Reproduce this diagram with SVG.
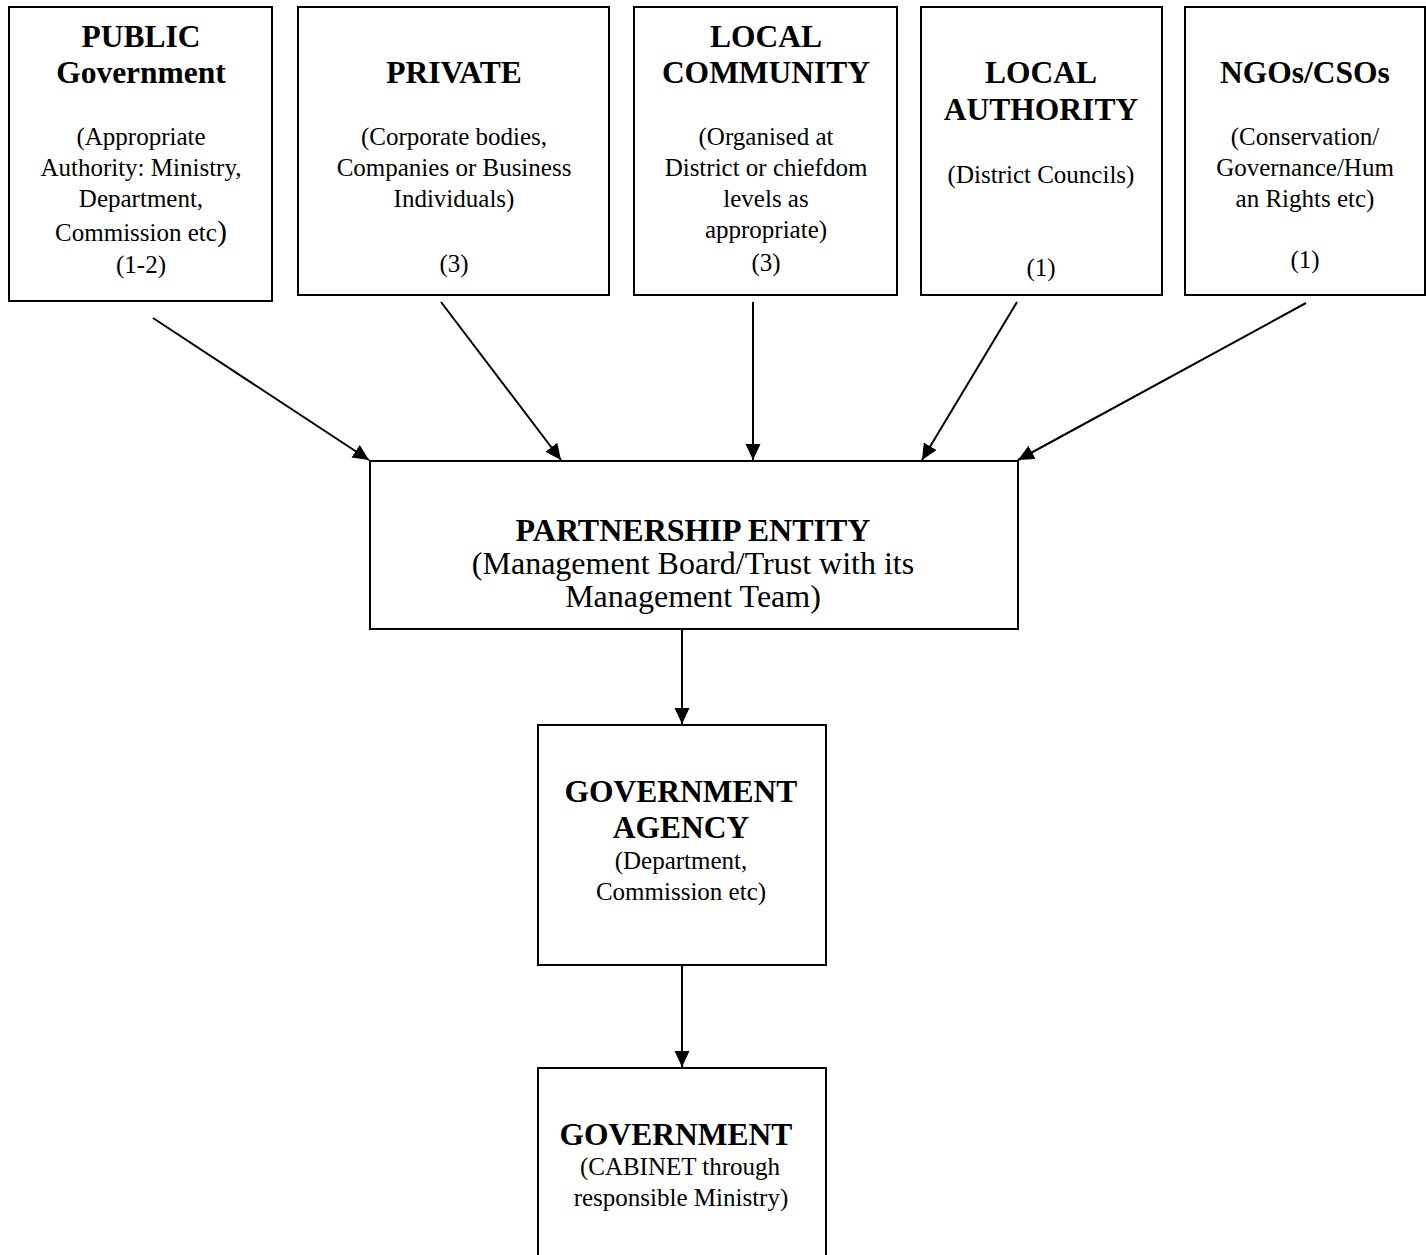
<svg xmlns="http://www.w3.org/2000/svg" width="1426" height="1255" viewBox="0 0 1426 1255">
<style>
.box{fill:#fff;stroke:#000;stroke-width:2}
text{font-family:"Liberation Serif","Times New Roman",serif;fill:#000;text-anchor:middle}
.t{font-weight:bold;font-size:31.5px}
.s{font-size:25px}
.p{font-size:32px}
.pt{font-weight:bold;font-size:32px}
.c{stroke:#000;stroke-width:2;fill:none;marker-end:url(#ah)}
</style>
<defs>
<marker id="ah" markerUnits="userSpaceOnUse" markerWidth="18" markerHeight="16" refX="16" refY="7.5" orient="auto">
<path d="M0,0 L16,7.5 L0,15 Z" fill="#000"/>
</marker>
</defs>
<rect width="1426" height="1255" fill="#fff"/>
<g id="connectors">
<line class="c" x1="153" y1="318" x2="369" y2="460"/>
<line class="c" x1="441" y1="302" x2="561" y2="460"/>
<line class="c" x1="753" y1="302" x2="753" y2="460"/>
<line class="c" x1="1017" y1="302" x2="922" y2="460"/>
<line class="c" x1="1306" y1="303" x2="1018" y2="460"/>
<line class="c" x1="682" y1="629" x2="682" y2="724"/>
<line class="c" x1="682" y1="965" x2="682" y2="1067"/>
</g>
<g id="public">
<rect class="box" x="9" y="7" width="263" height="294"/>
<text class="t" x="141" y="47">PUBLIC</text>
<text class="t" x="141" y="83">Government</text>
<text class="s" x="141" y="145">(Appropriate</text>
<text class="s" x="141" y="176">Authority: Ministry,</text>
<text class="s" x="141" y="207">Department,</text>
<text class="s" x="141" y="241">Commission etc<tspan font-size="30">)</tspan></text>
<text class="s" x="141" y="273">(1-2)</text>
</g>
<g id="private">
<rect class="box" x="298" y="7" width="311" height="288"/>
<text class="t" x="454" y="83">PRIVATE</text>
<text class="s" x="454" y="145">(Corporate bodies,</text>
<text class="s" x="454" y="176">Companies or Business</text>
<text class="s" x="454" y="207">Individuals)</text>
<text class="s" x="454" y="272">(3)</text>
</g>
<g id="community">
<rect class="box" x="634" y="7" width="263" height="288"/>
<text class="t" x="766" y="47">LOCAL</text>
<text class="t" x="766" y="83">COMMUNITY</text>
<text class="s" x="766" y="145">(Organised at</text>
<text class="s" x="766" y="176">District or chiefdom</text>
<text class="s" x="766" y="207">levels as</text>
<text class="s" x="766" y="238">appropriate)</text>
<text class="s" x="766" y="271">(3)</text>
</g>
<g id="authority">
<rect class="box" x="921" y="7" width="241" height="288"/>
<text class="t" x="1041" y="83">LOCAL</text>
<text class="t" x="1041" y="120">AUTHORITY</text>
<text class="s" x="1041" y="183">(District Councils)</text>
<text class="s" x="1041" y="276">(1)</text>
</g>
<g id="ngos">
<rect class="box" x="1185" y="7" width="240" height="288"/>
<text class="t" x="1305" y="83">NGOs/CSOs</text>
<text class="s" x="1305" y="145">(Conservation/</text>
<text class="s" x="1305" y="176">Governance/Hum</text>
<text class="s" x="1305" y="207">an Rights etc)</text>
<text class="s" x="1305" y="268">(1)</text>
</g>
<g id="partnership">
<rect class="box" x="370" y="461" width="648" height="168"/>
<text class="pt" x="693" y="541">PARTNERSHIP ENTITY</text>
<text class="p" x="693" y="574">(Management Board/Trust with its</text>
<text class="p" x="693" y="607">Management Team)</text>
</g>
<g id="agency">
<rect class="box" x="538" y="725" width="288" height="240"/>
<text class="t" x="681" y="802">GOVERNMENT</text>
<text class="t" x="681" y="838">AGENCY</text>
<text class="s" x="681" y="869">(Department,</text>
<text class="s" x="681" y="900">Commission etc)</text>
</g>
<g id="government">
<rect class="box" x="538" y="1068" width="288" height="200"/>
<text class="t" x="676" y="1145">GOVERNMENT</text>
<text class="s" x="680" y="1175">(CABINET through</text>
<text class="s" x="681" y="1206">responsible Ministry)</text>
</g>
</svg>
